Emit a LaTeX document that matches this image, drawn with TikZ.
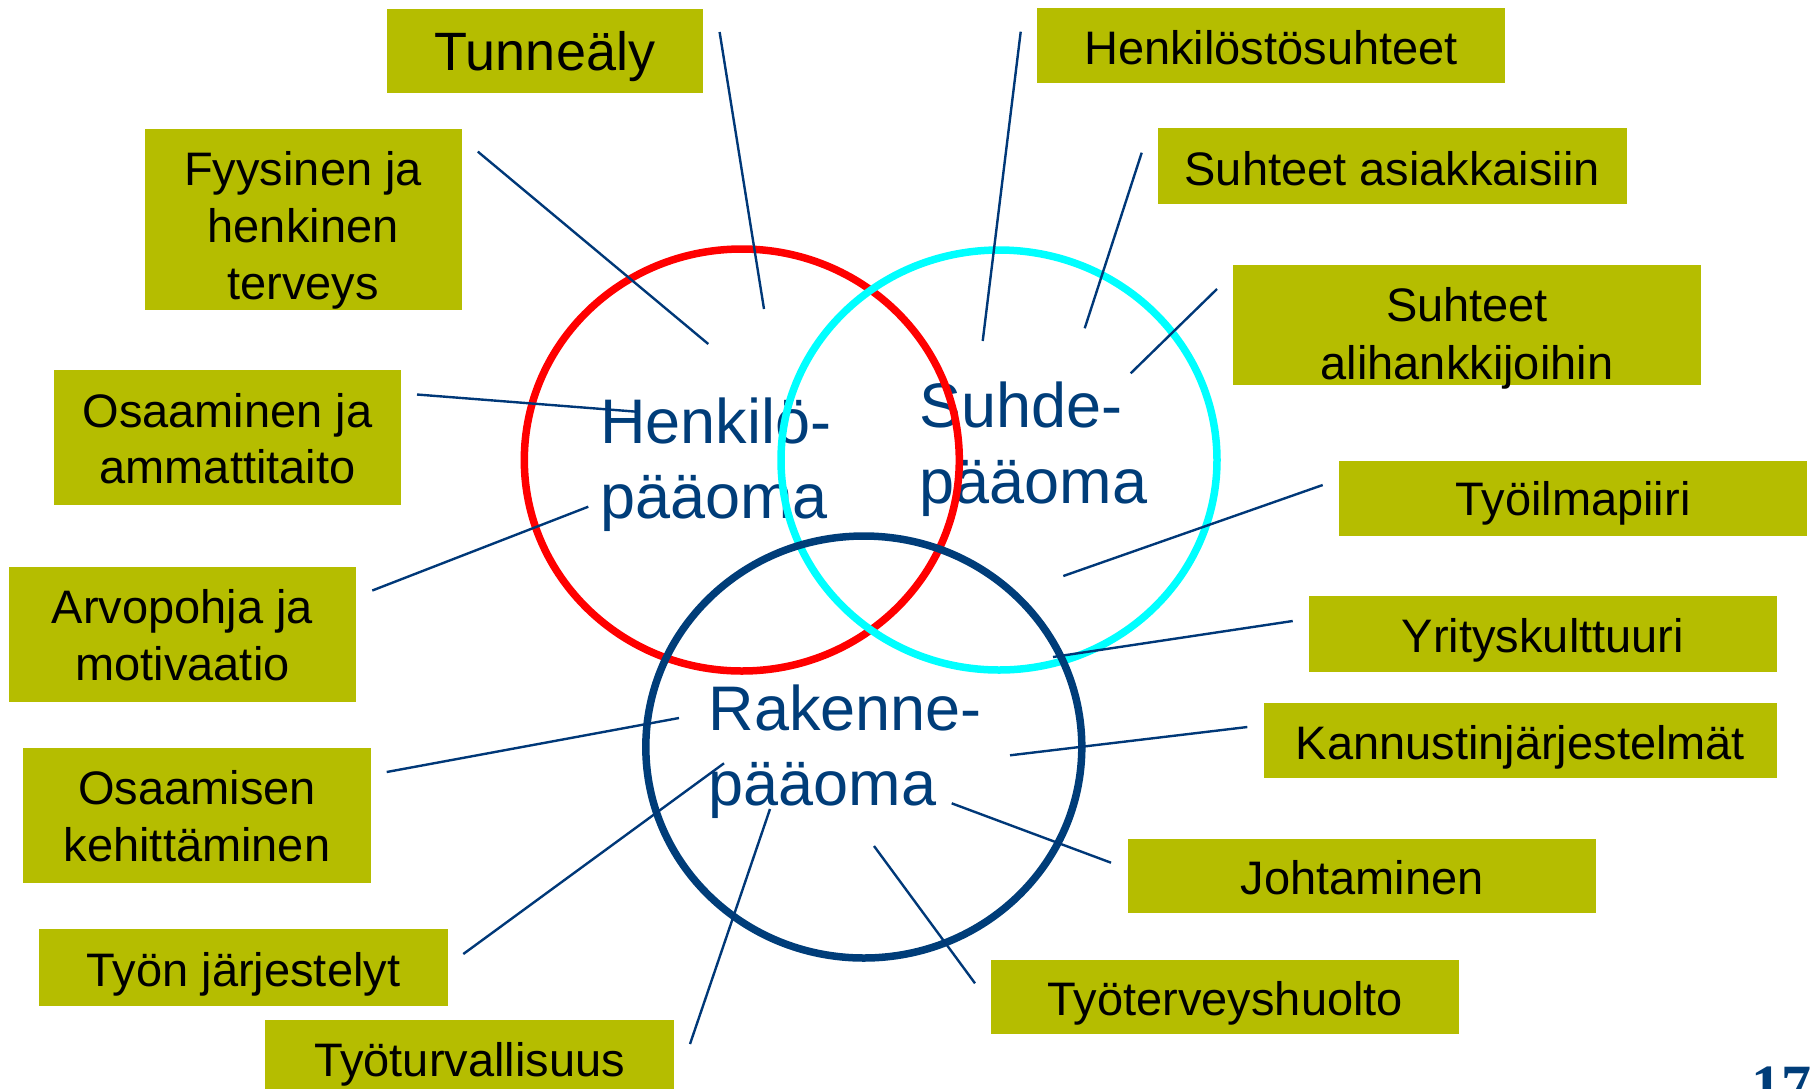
\documentclass[tikz,border=0pt]{standalone}
\usepackage{fontspec}
\setmainfont{Liberation Sans}
\newfontfamily\numfont{Liberation Serif}
\usetikzlibrary{fit}
\definecolor{boxgreen}{RGB}{181,189,0}
\definecolor{navyc}{RGB}{0,61,121}
\definecolor{linec}{RGB}{0,56,120}
\definecolor{aquac}{RGB}{0,255,255}
\definecolor{redc}{RGB}{255,0,0}
\newcommand\mybt[1]{\begin{tabular}[t]{@{}c@{}}#1\end{tabular}}
\newcommand\mylt[1]{\begin{tabular}[t]{@{}l@{}}#1\end{tabular}}
\begin{document}
\begin{tikzpicture}[x=1pt,y=-1pt,
  bx/.style={fill=boxgreen, draw=none, inner sep=0pt, outer sep=0pt},
  bt/.style={anchor=base, inner sep=0pt, text=black, font=\fontsize{47}{57}\selectfont},
  ct/.style={anchor=base west, inner sep=0pt, text=navyc, font=\fontsize{63}{75.5}\selectfont},
  conn/.style={draw=linec, line width=2.4pt},
  ring/.style={line width=7.5pt}]
\clip (0,0) rectangle (1814,1088);
\useasboundingbox (0,0) rectangle (1814,1088);

% boxes
\node[bx, fit={(387,8.5)(703,92.7)}] (b1) {};
\node[bx, fit={(144.6,128.5)(461.6,309.5)}] (b2) {};
\node[bx, fit={(54,370.3)(401,505.3)}] (b3) {};
\node[bx, fit={(9,567.2)(356,702.2)}] (b4) {};
\node[bx, fit={(23,747.5)(371,882.9)}] (b5) {};
\node[bx, fit={(39.3,929)(447.7,1005.7)}] (b6) {};
\node[bx, fit={(265,1020)(674,1100)}] (b7) {};
\node[bx, fit={(1037,8)(1505,82.5)}] (b8) {};
\node[bx, fit={(1158,128.4)(1626.6,203.6)}] (b9) {};
\node[bx, fit={(1233,264.5)(1701,384.8)}] (b10) {};
\node[bx, fit={(1338.7,461.2)(1807.3,535.9)}] (b11) {};
\node[bx, fit={(1308.9,596.3)(1777,671.5)}] (b12) {};
\node[bx, fit={(1263.7,703)(1777,777.6)}] (b13) {};
\node[bx, fit={(1127.7,838.6)(1596.4,912.7)}] (b14) {};
\node[bx, fit={(991.2,959.5)(1459.3,1034)}] (b15) {};

% box texts
\node[bt, font=\fontsize{54}{60}\selectfont] (t1) at (545,70) {\mybt{Tunneäly}};
\node[bt] (t2) at (303.1,185.5) {\mybt{Fyysinen ja\\henkinen\\terveys}};
\node[bt, font=\fontsize{47}{56.4}\selectfont] (t3) at (227.5,427.2) {\mybt{Osaaminen ja\\ammattitaito}};
\node[bt, font=\fontsize{47}{56.4}\selectfont] (t4) at (182.5,623.6) {\mybt{Arvopohja ja\\motivaatio}};
\node[bt, font=\fontsize{47}{56.9}\selectfont] (t5) at (197,804.9) {\mybt{Osaamisen\\kehittäminen}};
\node[bt] (t6) at (243.5,986) {\mybt{Työn järjestelyt}};
\node[bt] (t7) at (469.5,1076.7) {\mybt{Työturvallisuus}};
\node[bt] (t8) at (1271,64.3) {\mybt{Henkilöstösuhteet}};
\node[bt] (t9) at (1392.3,185.2) {\mybt{Suhteet asiakkaisiin}};
\node[bt, font=\fontsize{47}{58}\selectfont] (t10) at (1467,321.4) {\mybt{Suhteet\\alihankkijoihin}};
\node[bt] (t11) at (1573,515.7) {\mybt{Työilmapiiri}};
\node[bt] (t12) at (1543,652) {\mybt{Yrityskulttuuri}};
\node[bt] (t13) at (1520.4,759.8) {\mybt{Kannustinjärjestelmät}};
\node[bt] (t14) at (1362,894.9) {\mybt{Johtaminen}};
\node[bt] (t15) at (1225.3,1015.7) {\mybt{Työterveyshuolto}};

% circle labels
\node[ct] (hl) at (600,443) {\mylt{Henkilö-\\pääoma}};
\node[ct, font=\fontsize{63}{76.5}\selectfont] (sl) at (919.5,427) {\mylt{Suhde-\\pääoma}};
\node[ct] (rl) at (708.5,730) {\mylt{Rakenne-\\pääoma}};

% circles
\coordinate (hc) at (741.8,460);
\coordinate (sc) at (999,460);
\coordinate (rc) at (863.8,747);
\draw[ring, draw=redc] (hc) ellipse [x radius=217.5pt, y radius=211pt];
\draw[ring, draw=aquac] (sc) ellipse [x radius=218pt, y radius=210pt];
\draw[ring, draw=navyc] (rc) ellipse [x radius=218pt, y radius=211pt];

% connector end points
\coordinate (a1) at (719.6,32);    \coordinate (e1) at (764,309);
\coordinate (a2) at (477.8,151.6); \coordinate (e2) at (708.3,344);
\coordinate (a3) at (417,394.5);   \coordinate (e3) at (636.7,411.7);
\coordinate (a4) at (372.3,590.5); \coordinate (e4) at (588.3,506.7);
\coordinate (a5) at (386.7,772);   \coordinate (e5) at (679,718);
\coordinate (a6) at (463.3,954);   \coordinate (e6) at (724,763.3);
\coordinate (a7) at (690,1044);    \coordinate (e7) at (770,809);
\coordinate (a8) at (1020.7,31.7); \coordinate (e8) at (982.7,341);
\coordinate (a9) at (1141.7,152.7);\coordinate (e9) at (1084.7,328.3);
\coordinate (a10) at (1217,289);   \coordinate (e10) at (1130.7,373.3);
\coordinate (a11) at (1322.7,485); \coordinate (e11) at (1063.3,576);
\coordinate (a12) at (1292.7,621); \coordinate (e12) at (1053,657);
\coordinate (a13) at (1247.3,727); \coordinate (e13) at (1010,755.3);
\coordinate (a14) at (1111,862.7); \coordinate (e14) at (951.7,803.3);
\coordinate (a15) at (975,983.3);  \coordinate (e15) at (874,846);

\foreach \i in {1,...,15} {\draw[conn] (a\i) -- (e\i);}

% page number (cut off at the bottom edge, as in the original)
\node[anchor=base west, inner sep=0pt, text=navyc, font=\numfont\bfseries\fontsize{60}{60}\selectfont] (pn) at (1751,1106) {17};
\end{tikzpicture}
\end{document}
